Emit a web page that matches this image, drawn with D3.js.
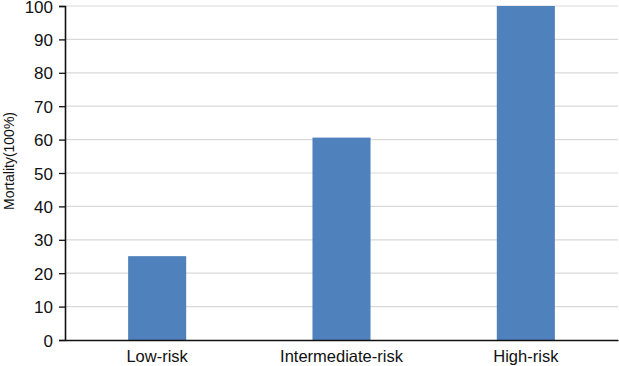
<html>
<head>
  <meta charset="utf-8" />
  <script src="https://cdnjs.cloudflare.com/ajax/libs/d3/7.8.5/d3.min.js"></script>
  <style>
    body { margin: 0; background: #fff; }
    text { font-family: "Liberation Sans", Arial, sans-serif; fill: #111; }
  </style>
</head>
<body>
  <svg width="619" height="366"></svg>
  <script>
  const categories = ["Low-risk", "Intermediate-risk", "High-risk"];
  const mortality = [25.1, 60.6, 100];
  const yTicks = [0, 10, 20, 30, 40, 50, 60, 70, 80, 90, 100];

  const svg = d3.select("svg");
  const mLeft = 65, mRight = 618, mTop = 6, mBottom = 340;

  const x = d3.scaleBand().domain(categories).range([mLeft, mRight])
              .paddingInner(0.685).paddingOuter(0.3425);
  const y = d3.scaleLinear().domain([0, 100]).range([mBottom, mTop]);

  // gridlines
  svg.append("g").selectAll("line")
    .data(yTicks.filter(d => d > 0))
    .enter().append("line")
      .attr("x1", mLeft).attr("x2", mRight)
      .attr("y1", d => y(d)).attr("y2", d => y(d))
      .attr("stroke", "#d9d9d9").attr("stroke-width", 1.2);

  // bars
  svg.append("g").selectAll("rect")
    .data(mortality)
    .enter().append("rect")
      .attr("x", (d, i) => x(categories[i]))
      .attr("width", x.bandwidth())
      .attr("y", d => y(d))
      .attr("height", d => mBottom - y(d))
      .attr("fill", "#4f81bd");

  // y axis
  const yAxis = d3.axisLeft(y).tickValues(yTicks).tickSize(6).tickPadding(6);
  const yg = svg.append("g").attr("transform", `translate(${mLeft},0)`).call(yAxis);
  yg.select(".domain").attr("stroke", "#111").attr("stroke-width", 1.6);
  yg.selectAll(".tick line").attr("stroke", "#111").attr("stroke-width", 1.3);
  yg.selectAll(".tick text").style("font-size", "17px").attr("fill", "#111").attr("dy", "0.36em");

  // x axis
  const xAxis = d3.axisBottom(x).tickSize(0).tickPadding(10);
  const xg = svg.append("g").attr("transform", `translate(0,${mBottom})`).call(xAxis);
  xg.select(".domain").attr("stroke", "#111").attr("stroke-width", 1.6);
  xg.selectAll(".tick text").style("font-size", "16.5px").attr("fill", "#111");

  // y title
  svg.append("text")
    .attr("transform", "translate(14,161) rotate(-90)")
    .attr("text-anchor", "middle")
    .style("font-size", "14px")
    .text("Mortality(100%)");
  </script>
</body>
</html>
